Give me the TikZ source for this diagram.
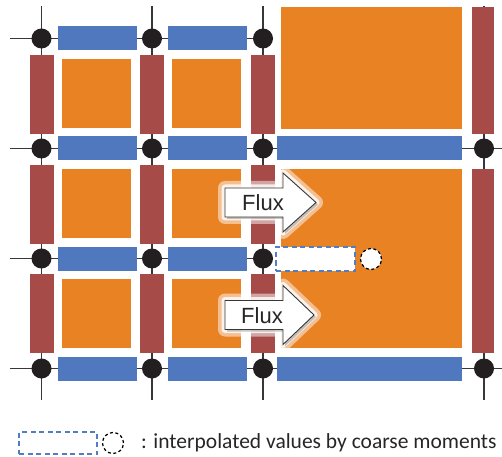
\documentclass[tikz,border=0pt]{standalone}
\usepackage{fontspec}
\setmainfont{Carlito}
\newfontfamily\fluxfont{Liberation Sans}
\definecolor{barblue}{RGB}{80,120,190}
\definecolor{barred}{RGB}{166,75,71}
\definecolor{cellorange}{RGB}{233,130,35}
\definecolor{dotc}{RGB}{35,31,32}
\definecolor{linec}{RGB}{55,55,55}
\definecolor{dashblue}{RGB}{80,125,195}
\begin{document}
\begin{tikzpicture}[x=1bp,y=-1bp,
  dotn/.style={circle, fill=dotc, minimum size=20bp, inner sep=0pt},
  hbar/.style={fill=barblue, minimum width=79bp, minimum height=24bp, inner sep=0pt},
  vbar/.style={fill=barred, minimum width=24bp, minimum height=79bp, inner sep=0pt},
  cell/.style={fill=cellorange, minimum size=69bp, inner sep=0pt},
  gridline/.style={draw=linec, line width=1.4bp},
  glow/.style={draw=white, line join=round, opacity=0.5, line width=14bp},
  glowin/.style={draw=white, line join=round, opacity=0.8, line width=7bp},
  arrowbox/.style={fill=white, draw=linec, line width=0.9bp, line join=miter},
  shadowc/.style={fill=black!70, opacity=0.3},
  fluxtext/.style={font=\fluxfont\fontsize{22bp}{26bp}\selectfont, text=black!85, inner sep=0pt},
  dashrect/.style={draw=dashblue, line width=1.2bp, dash pattern=on 5bp off 3.5bp},
  dashcirc/.style={circle, draw=black, line width=1.2bp, dash pattern=on 3bp off 2.5bp, minimum size=21bp, inner sep=0pt, fill=white}
]
\useasboundingbox (0,0) rectangle (502,457);

% coordinates for grid line ends
\coordinate (t1) at (41.5,6);  \coordinate (b1) at (41.5,400);
\coordinate (t2) at (152,6);   \coordinate (b2) at (152,400);
\coordinate (t3) at (263,6);   \coordinate (b3) at (263,400);
\coordinate (t4) at (484,6);   \coordinate (b4) at (484,400);
\coordinate (l1) at (10,38.5);
\coordinate (l2) at (10,148.5); \coordinate (r2) at (502,148.5);
\coordinate (l3) at (10,258.5);
\coordinate (l4) at (10,368.5); \coordinate (r4) at (502,368.5);

\path (41.5,38.5) coordinate (c11) (152,38.5) coordinate (c12) (263,38.5) coordinate (c13)
      (41.5,148.5) coordinate (c21) (152,148.5) coordinate (c22) (263,148.5) coordinate (c23) (484,148.5) coordinate (c24)
      (41.5,258.5) coordinate (c31) (152,258.5) coordinate (c32) (263,258.5) coordinate (c33)
      (41.5,368.5) coordinate (c41) (152,368.5) coordinate (c42) (263,368.5) coordinate (c43) (484,368.5) coordinate (c44);

% grid lines
\draw[gridline] (t1) -- (b1);
\draw[gridline] (t2) -- (b2);
\draw[gridline] (t3) -- (b3);
\draw[gridline] (t4) -- (b4);
\draw[gridline] (l1) -- (c13);
\draw[gridline] (l2) -- (r2);
\draw[gridline] (l3) -- (c33);
\draw[gridline] (l4) -- (r4);

% orange cells
\node[cell] (o11) at (96.5,93.5) {};
\node[cell] (o12) at (206.5,93.5) {};
\node[cell] (o21) at (96.5,203.5) {};
\node[cell] (o22) at (206.5,203.5) {};
\node[cell] (o31) at (96.5,313.5) {};
\node[cell] (o32) at (206.5,313.5) {};
\node[fill=cellorange, minimum width=181bp, minimum height=122bp, inner sep=0pt] (obig1) at (371.5,68) {};
\node[fill=cellorange, minimum width=181bp, minimum height=179bp, inner sep=0pt] (obig2) at (371.5,258.5) {};

% blue bars
\foreach \y/\r in {38.5/1,148.5/2,258.5/3,368.5/4}{
  \node[hbar] (hb\r a) at (97.5,\y) {};
  \node[hbar] (hb\r b) at (207.5,\y) {};
}
\node[hbar, minimum width=185bp] (hbig2) at (369.5,148.5) {};
\node[hbar, minimum width=185bp] (hbig4) at (369.5,368.5) {};

% red bars
\foreach \y/\r in {94.5/1,204.5/2,313.5/3}{
  \node[vbar] (vb\r a) at (41.5,\y) {};
  \node[vbar] (vb\r b) at (152,\y) {};
  \node[vbar] (vb\r c) at (263,\y) {};
}
\node[vbar, minimum width=22bp, minimum height=127bp] (vbr1) at (483,70.5) {};
\node[vbar, minimum width=22bp, minimum height=184bp] (vbr2) at (483,261) {};

% dots
\foreach \c in {c11,c12,c13,c21,c22,c23,c24,c31,c32,c33,c41,c42,c43,c44}{
  \node[dotn] (d\c) at (\c) {};
}

% interpolated values in grid
\node[dashrect, fill=white, minimum width=79bp, minimum height=24bp, inner sep=0pt] (irect) at (315.5,259) {};
\node[dashcirc] (icirc) at (371,259) {};

% Flux arrows
\foreach \yc/\tip/\n in {202.5/316/1,315/314/2}{
  \path[glow] (225,\yc-14.5) -- (283,\yc-14.5) -- (283,\yc-29.5) -- (\tip,\yc) -- (283,\yc+29.5) -- (283,\yc+14.5) -- (225,\yc+14.5) -- cycle;
  \path[glowin] (225,\yc-14.5) -- (283,\yc-14.5) -- (283,\yc-29.5) -- (\tip,\yc) -- (283,\yc+29.5) -- (283,\yc+14.5) -- (225,\yc+14.5) -- cycle;
  \path[shadowc] (227,\yc-12.5) -- (285,\yc-12.5) -- (285,\yc-27.5) -- (\tip+2,\yc+2) -- (285,\yc+31.5) -- (285,\yc+16.5) -- (227,\yc+16.5) -- cycle;
  \path[arrowbox] (225,\yc-14.5) -- (283,\yc-14.5) -- (283,\yc-29.5) -- (\tip,\yc) -- (283,\yc+29.5) -- (283,\yc+14.5) -- (225,\yc+14.5) -- cycle;
}
\node[fluxtext, anchor=base] (flux1) at (263,211) {Flux};
\node[fluxtext, anchor=base] (flux2) at (262,323) {Flux};

% legend
\node[dashrect, minimum width=78bp, minimum height=22bp, inner sep=0pt] (lrect) at (58,443) {};
\node[dashcirc, fill=none, minimum size=21bp] (lcirc) at (113,443) {};
\node[anchor=base west, inner sep=0pt, font=\fontsize{21.5bp}{25bp}\selectfont, text=black!85] (ltext) at (141,448) {: interpolated values by coarse moments};
\end{tikzpicture}
\end{document}
